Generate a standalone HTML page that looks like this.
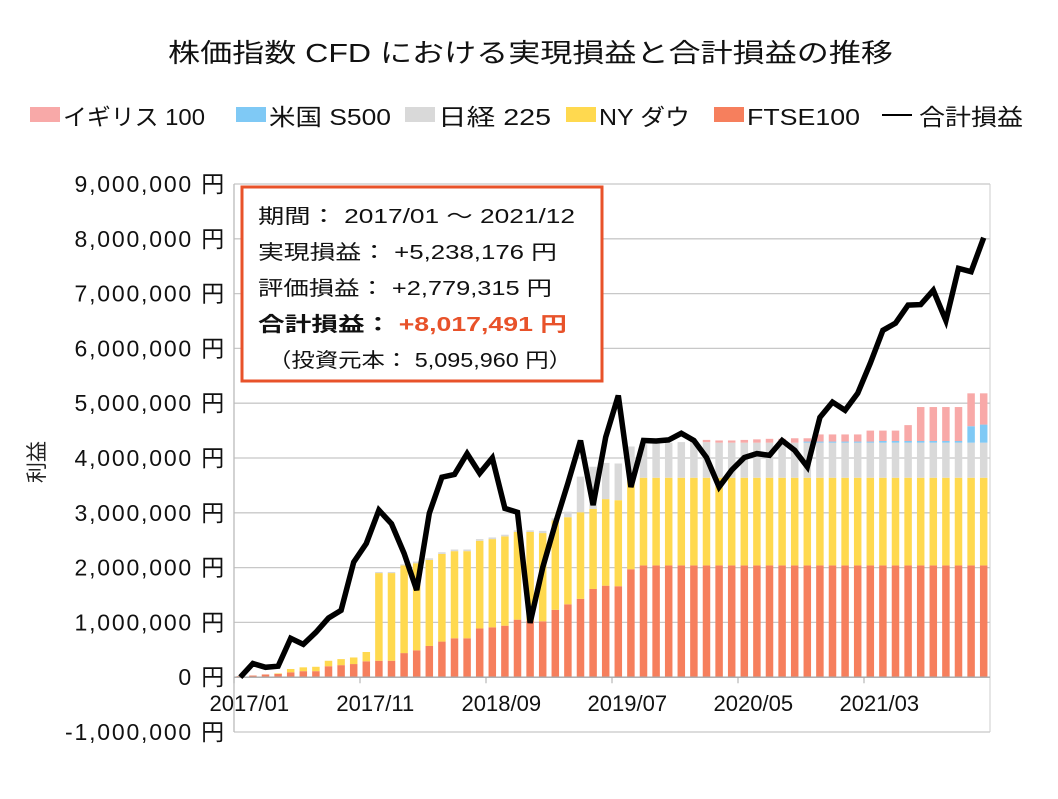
<!DOCTYPE html>
<html><head><meta charset="utf-8">
<style>
body{margin:0;background:#fff;}
svg text{font-family:"Liberation Sans","Noto Sans CJK JP",sans-serif;}
</style></head>
<body>
<svg id="chart" width="1058" height="794" viewBox="0 0 1058 794" xmlns="http://www.w3.org/2000/svg">
<text x="168" y="62" font-size="26" textLength="725" lengthAdjust="spacingAndGlyphs" fill="#111">株価指数 CFD における実現損益と合計損益の推移</text>
<g id="legend"></g>
<g id="grid"></g>
<g id="bars"></g>
<g id="axes"></g>
<g id="line"></g>
<text x="0" y="0" font-size="21" fill="#222" transform="translate(44,462) rotate(-90)" text-anchor="middle">利益</text>
<g>
<rect x="242" y="187" width="360" height="194" fill="#fff" stroke="#e8522a" stroke-width="3"/>
<text x="258" y="223" font-size="20" textLength="317" lengthAdjust="spacingAndGlyphs" fill="#111">期間： 2017/01 ～ 2021/12</text>
<text x="258" y="259" font-size="20" textLength="299" lengthAdjust="spacingAndGlyphs" fill="#111">実現損益： +5,238,176 円</text>
<text x="258" y="295" font-size="20" textLength="294" lengthAdjust="spacingAndGlyphs" fill="#111">評価損益： +2,779,315 円</text>
<text x="258" y="331" font-size="20" textLength="309" lengthAdjust="spacingAndGlyphs" font-weight="bold" fill="#111">合計損益： <tspan fill="#e8522a">+8,017,491 円</tspan></text>
<text x="268" y="367" font-size="20" textLength="304" lengthAdjust="spacingAndGlyphs" fill="#111">（投資元本： 5,095,960 円）</text>
</g>
</svg>
<script>
const months = 60;
const xTickLabels = ["2017/01","2017/11","2018/09","2019/07","2020/05","2021/03"];
const yTicks = [-1,0,1,2,3,4,5,6,7,8,9];
const ftse = [0.02,0.03,0.05,0.06,0.09,0.11,0.11,0.2,0.22,0.24,0.29,0.3,0.3,0.44,0.49,0.57,0.65,0.71,0.71,0.89,0.91,0.94,1.05,1.03,1.02,1.23,1.33,1.43,1.61,1.67,1.66,1.97,2.04,2.04,2.04,2.04,2.04,2.04,2.04,2.04,2.04,2.04,2.04,2.04,2.04,2.04,2.04,2.04,2.04,2.04,2.04,2.04,2.04,2.04,2.04,2.04,2.04,2.04,2.04,2.04];
const nyDow = [0,0,0,0.01,0.06,0.07,0.08,0.1,0.11,0.12,0.17,1.6,1.6,1.6,1.59,1.57,1.6,1.59,1.59,1.6,1.61,1.63,1.6,1.62,1.61,1.63,1.59,1.58,1.46,1.58,1.57,1.69,1.6,1.6,1.6,1.6,1.6,1.6,1.6,1.6,1.6,1.6,1.6,1.6,1.6,1.6,1.6,1.6,1.6,1.6,1.6,1.6,1.6,1.6,1.6,1.6,1.6,1.6,1.6,1.6];
const nikkei = [0,0,0,0,0,0,0,0,0,0,0,0.02,0.02,0.02,0.03,0.03,0.03,0.03,0.03,0.03,0.03,0.03,0.03,0.03,0.04,0.04,0.1,0.65,0.77,0.66,0.67,0.55,0.61,0.63,0.64,0.65,0.65,0.65,0.64,0.64,0.64,0.64,0.64,0.64,0.64,0.64,0.64,0.64,0.64,0.64,0.64,0.64,0.64,0.64,0.64,0.64,0.64,0.64,0.64,0.64];
const usS500 = [0,0,0,0,0,0,0,0,0,0,0,0,0,0,0,0,0,0,0,0,0,0,0,0,0,0,0,0,0,0,0,0,0,0,0,0,0,0,0,0,0,0,0,0,0,0.02,0.02,0.02,0.02,0.02,0.02,0.03,0.03,0.03,0.03,0.03,0.03,0.03,0.3,0.33];
const uk100 = [0,0,0,0,0,0,0,0,0,0,0,0,0,0,0,0,0,0,0,0,0,0,0,0,0,0,0,0,0,0,0,0,0,0,0,0,0.02,0.04,0.04,0.04,0.05,0.06,0.07,0.07,0.08,0.06,0.13,0.13,0.13,0.13,0.2,0.19,0.19,0.29,0.62,0.62,0.62,0.62,0.6,0.57];
const total = [0,0.25,0.18,0.2,0.71,0.6,0.82,1.08,1.22,2.1,2.44,3.05,2.8,2.26,1.59,2.99,3.65,3.7,4.08,3.72,4.0,3.08,3.01,0.99,2.0,2.8,3.54,4.32,3.14,4.38,5.14,3.47,4.32,4.31,4.33,4.45,4.32,4.01,3.47,3.78,4.01,4.08,4.05,4.32,4.14,3.84,4.74,5.02,4.87,5.18,5.73,6.33,6.46,6.79,6.8,7.06,6.51,7.46,7.4,8.02];

const NS="http://www.w3.org/2000/svg";
const L=234,R=990,T=184,B=732,yMin=-1,yMax=9;
const step=(R-L)/months;
const xC=i=>L+step*(i+0.5);
const yS=v=>B-(v-yMin)/(yMax-yMin)*(B-T);
function mk(tag,attrs,parent){const e=document.createElementNS(NS,tag);for(const k in attrs)e.setAttribute(k,attrs[k]);parent.appendChild(e);return e;}
const grid=document.getElementById('grid'),axes=document.getElementById('axes'),bars=document.getElementById('bars'),line=document.getElementById('line'),legend=document.getElementById('legend');
yTicks.forEach(v=>{
  const y=yS(v);
  const g=mk('line',{x1:L,x2:R,y1:y,y2:y,stroke:'#c8c8c8','stroke-width':1.3},grid);
  
  
  const t=mk('text',{x:226,y:y+8,'font-size':23,'letter-spacing':1.8,'text-anchor':'end',fill:'#111'},axes);
  t.textContent=(v<0?'-':'')+Math.abs(v*1000000).toLocaleString('en-US')+' 円';
  
  
});
mk('line',{x1:L,x2:L,y1:T,y2:B,stroke:'#bbb','stroke-width':1.3},axes);
mk('line',{x1:R,x2:R,y1:T,y2:B,stroke:'#ccc','stroke-width':1},axes);
mk('line',{x1:L,x2:R,y1:yS(0),y2:yS(0),stroke:'#aaa','stroke-width':1.3},axes);
xTickLabels.forEach((lab,k)=>{
  const i=k*10;
  const xt=L+step*i;
  mk('line',{x1:xt,x2:xt,y1:yS(0),y2:yS(0)+6,stroke:'#aaa'},axes);
  const t=mk('text',{x:xC(i)+9,y:711,'font-size':22,'text-anchor':'middle',fill:'#111'},axes);
  t.textContent=lab;
  
  
});
const series=[[ftse,'#f67f5d','bar-ftse100'],[nyDow,'#ffd94f','bar-ny-dow'],[nikkei,'#d9d9d9','bar-nikkei225'],[usS500,'#7fc9f5','bar-us-s500'],[uk100,'#f8a9a8','bar-uk100']];
const bw=7.5;
for(let i=0;i<months;i++){
  let base=0;
  series.forEach(([arr,col,name])=>{
    const v=arr[i];
    if(v>0){
      const r=mk('rect',{x:xC(i)-bw/2,y:yS(base+v),width:bw,height:yS(base)-yS(base+v),fill:col},bars);
      
      
    }
    base+=v;
  });
}
const pts=total.map((v,i)=>xC(i).toFixed(1)+','+yS(v).toFixed(1)).join(' ');
const pl=mk('polyline',{points:pts,fill:'none',stroke:'#000','stroke-width':5.5,'stroke-linejoin':'miter'},line);


const legItems=[['#f8a9a8','イギリス 100',30,142],['#7fc9f5','米国 S500',236,122],['#d9d9d9','日経 225',405,113],['#ffd94f','NY ダウ',566,91],['#f67f5d','FTSE100',714,113]];
legItems.forEach(([c,lab,x,w])=>{
  const r=mk('rect',{x:x,y:107,width:30,height:15,fill:c},legend);
  
  
  const t=mk('text',{x:x+33,y:125,'font-size':23,textLength:w,lengthAdjust:'spacingAndGlyphs',fill:'#111'},legend);
  t.textContent=lab;
  
  
});
mk('line',{x1:882,x2:912,y1:115,y2:115,stroke:'#000','stroke-width':2},legend);
const tl=mk('text',{x:919,y:125,'font-size':23,textLength:104,lengthAdjust:'spacingAndGlyphs',fill:'#111'},legend);
tl.textContent='合計損益';


</script>
</body></html>
